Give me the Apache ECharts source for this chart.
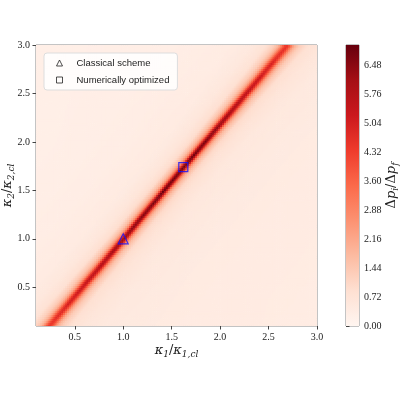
<!DOCTYPE html>
<html>
<head>
<meta charset="utf-8">
<script src="https://cdn.jsdelivr.net/npm/echarts@6/dist/echarts.min.js"></script>
<style>html,body{margin:0;padding:0;background:#fff}#main{width:400px;height:400px}</style>
</head>
<body>
<div id="main"></div>
<script>
// ridge centre line, read at the plot edges and at the two markers
const ridgeK2 = [0.1, 1.0, 1.74, 3.0];
const ridgeK1 = [0.234, 1.0, 1.62, 2.69];

// value across the ridge, by horizontal offset in kappa1 units
const offsets = [0, 0.015, 0.03, 0.045, 0.06, 0.09, 0.15, 0.25, 0.4, 0.8, 1.5, 3.0];
const upperSide = [7.0, 6.3, 5.0, 3.6, 2.7, 1.8, 1.0, 0.65, 0.45, 0.33, 0.27, 0.25];
const lowerSide = [7.0, 6.3, 5.0, 3.6, 2.7, 1.8, 1.05, 0.75, 0.55, 0.45, 0.4, 0.38];

// how the ridge fades and widens along its length
const alongK2 = [0.1, 0.5, 1.0, 1.5, 2.0, 2.5, 3.0];
const peakScale = [0.64, 0.76, 0.9, 1.0, 0.98, 0.8, 0.64];
const widthScale = [1.5, 1.3, 1.1, 1.0, 1.02, 1.25, 1.5];

const markers = [
  { name: 'Classical scheme', icon: 'triangle', value: [1.0, 1.0] },
  { name: 'Numerically optimized', icon: 'rect', value: [1.62, 1.74] }
];

const axisTicks = [0.5, 1.0, 1.5, 2.0, 2.5, 3.0];
const barTicks = [0, 0.72, 1.44, 2.16, 2.88, 3.6, 4.32, 5.04, 5.76, 6.48];
const barMax = 6.98;
const reds = ['#fff5f0', '#fee0d2', '#fcbba1', '#fc9272', '#fb6a4a', '#ef3b2c', '#cb181d', '#a50f15', '#67000d'];

function lookup (xs, ys, x) {
  if (x <= xs[0]) return ys[0];
  for (let i = 1; i < xs.length; i++) {
    if (x <= xs[i]) {
      const t = (x - xs[i - 1]) / (xs[i] - xs[i - 1]);
      return ys[i - 1] + t * (ys[i] - ys[i - 1]);
    }
  }
  return ys[ys.length - 1];
}

const step = 0.02;
const cells = [];
for (let j = 0; j < 145; j++) {
  const k2 = +(0.11 + j * step).toFixed(2);
  const centre = lookup(ridgeK2, ridgeK1, k2);
  const w = lookup(alongK2, widthScale, k2);
  const p = lookup(alongK2, peakScale, k2);
  for (let i = 0; i < 145; i++) {
    const k1 = +(0.11 + i * step).toFixed(2);
    const d = k1 - centre;
    const side = d < 0 ? upperSide : lowerSide;
    const bg = side[side.length - 1];
    const v = bg + (lookup(offsets, side, Math.abs(d) / w) - bg) * p;
    cells.push([k1, k2, v]);
  }
}

const serif = 'Liberation Serif';
const mathRich = {
  i: { fontFamily: 'DejaVu Serif', fontStyle: 'italic', fontSize: 13, color: '#222' },
  n: { fontFamily: 'DejaVu Serif', fontSize: 13, color: '#222' },
  s: { fontFamily: 'DejaVu Serif', fontStyle: 'italic', fontSize: 9, color: '#222', padding: [7, 0, 0, 0] }
};

const chart = echarts.init(document.getElementById('main'));
chart.setOption({
  animation: false,
  grid: [
    { left: 36, top: 45, width: 281, height: 281, show: true, borderColor: '#888', borderWidth: 1, outerBoundsMode: 'none', containLabel: false },
    { left: 346, top: 45, width: 13, height: 281, show: true, borderColor: '#888', borderWidth: 1, outerBoundsMode: 'none', containLabel: false }
  ],
  legend: {
    left: 44,
    top: 53,
    orient: 'vertical',
    itemWidth: 6,
    itemHeight: 6,
    itemGap: 7,
    padding: [5, 8, 5, 12],
    backgroundColor: 'rgba(255,255,255,0.85)',
    borderColor: '#ddd',
    borderWidth: 1,
    borderRadius: 3,
    textStyle: { fontFamily: 'Liberation Sans', fontSize: 9.5, color: '#222', padding: [0, 0, 0, 9] },
    data: markers.map(m => ({
      name: m.name,
      icon: m.icon,
      itemStyle: { color: 'transparent', borderColor: '#222', borderWidth: 1 }
    }))
  },
  visualMap: {
    show: false,
    seriesIndex: 0,
    dimension: 2,
    min: 0,
    max: barMax,
    inRange: { color: reds }
  },
  xAxis: [
    {
      gridIndex: 0,
      type: 'value',
      min: 0.1,
      max: 3.0,
      name: '{i|κ}{s|1}{n|/}{i|κ}{s|1,cl}',
      nameLocation: 'middle',
      nameGap: 17,
      nameMoveOverlap: false,
      nameTextStyle: { rich: mathRich },
      axisLine: { show: false },
      axisTick: { show: true, length: 3.5, customValues: axisTicks, lineStyle: { color: '#444' } },
      axisLabel: { customValues: axisTicks, fontFamily: serif, fontSize: 10, color: '#222', margin: 6, formatter: v => v.toFixed(1) },
      splitLine: { show: false }
    },
    { gridIndex: 1, type: 'value', min: 0, max: 1, show: false }
  ],
  yAxis: [
    {
      gridIndex: 0,
      type: 'value',
      min: 0.1,
      max: 3.0,
      name: '{i|κ}{s|2}{n|/}{i|κ}{s|2,cl}',
      nameLocation: 'middle',
      nameRotate: 90,
      nameGap: 20,
      nameMoveOverlap: false,
      nameTextStyle: { rich: mathRich },
      axisLine: { show: false },
      axisTick: { show: true, length: 3.5, customValues: axisTicks, lineStyle: { color: '#444' } },
      axisLabel: { customValues: axisTicks, fontFamily: serif, fontSize: 10, color: '#222', margin: 6, formatter: v => v.toFixed(1) },
      splitLine: { show: false }
    },
    {
      gridIndex: 1,
      type: 'value',
      position: 'right',
      min: 0,
      max: barMax,
      name: '{n|Δ}{i|p}{s|i}{n|/Δ}{i|p}{s|f}',
      nameLocation: 'middle',
      nameRotate: 90,
      nameGap: 25,
      nameMoveOverlap: false,
      nameTextStyle: { rich: mathRich },
      axisLine: { show: false },
      axisTick: { show: true, length: 3.5, customValues: barTicks, lineStyle: { color: '#444' } },
      axisLabel: { customValues: barTicks, fontFamily: serif, fontSize: 10, color: '#222', margin: 5, formatter: v => v.toFixed(2) },
      splitLine: { show: false }
    }
  ],
  series: [
    {
      type: 'custom',
      xAxisIndex: 0,
      yAxisIndex: 0,
      progressive: 0,
      silent: true,
      data: cells,
      renderItem: (params, api) => {
        const p = api.coord([api.value(0) - step / 2, api.value(1) + step / 2]);
        const s = api.size([step, step]);
        return {
          type: 'rect',
          shape: { x: p[0], y: p[1], width: s[0] + 0.6, height: s[1] + 0.6 },
          style: { fill: api.visual('color') }
        };
      },
      clip: true,
      z: 1
    },
    {
      type: 'custom',
      xAxisIndex: 1,
      yAxisIndex: 1,
      silent: true,
      data: [[0, 0]],
      renderItem: (params, api) => {
        const lo = api.coord([0, 0]);
        const hi = api.coord([1, barMax]);
        return {
          type: 'rect',
          shape: { x: lo[0], y: hi[1], width: hi[0] - lo[0], height: lo[1] - hi[1] },
          style: {
            fill: new echarts.graphic.LinearGradient(0, 1, 0, 0,
              reds.map((c, i) => ({ offset: i / (reds.length - 1), color: c })))
          }
        };
      }
    },
    ...markers.map(m => ({
      type: 'scatter',
      name: m.name,
      xAxisIndex: 0,
      yAxisIndex: 0,
      symbol: m.icon,
      symbolSize: m.icon === 'triangle' ? 10 : 9,
      itemStyle: { color: 'transparent', borderColor: '#1010ff', borderWidth: 1.2 },
      data: [m.value],
      z: 5
    }))
  ]
});
</script>
</body>
</html>
